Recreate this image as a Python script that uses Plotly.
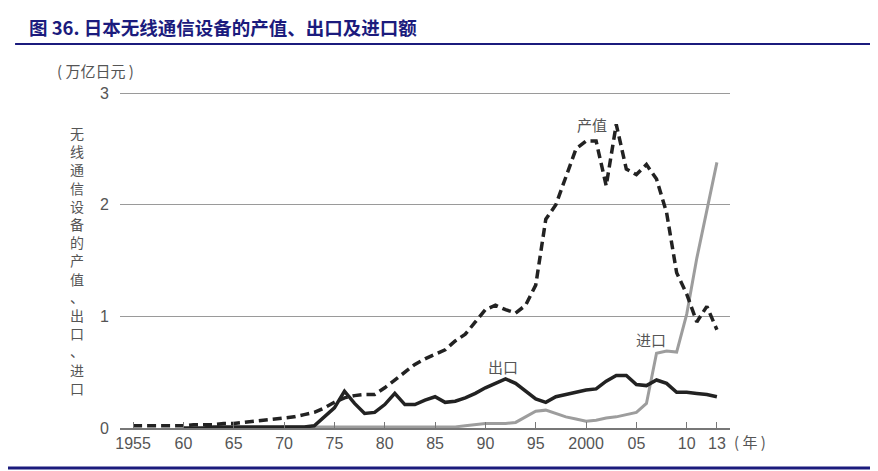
import plotly.graph_objects as go

# 年份 1955-2013
years = list(range(1955, 2014))

# 产值（万亿日元），读图估计
production = [0.02, 0.02, 0.02, 0.02, 0.02, 0.02, 0.03, 0.03, 0.03, 0.04,
              0.04, 0.05, 0.06, 0.07, 0.08, 0.09, 0.10, 0.12, 0.14, 0.18,
              0.23, 0.27, 0.29, 0.30, 0.30, 0.36, 0.43, 0.50, 0.57, 0.62,
              0.66, 0.70, 0.78, 0.84, 0.95, 1.06, 1.10, 1.06, 1.03, 1.10,
              1.28, 1.87, 2.00, 2.25, 2.50, 2.57, 2.57, 2.17, 2.72, 2.32,
              2.27, 2.36, 2.23, 1.93, 1.39, 1.20, 0.95, 1.09, 0.88]

# 出口（1960 年起）
export_years = list(range(1960, 2014))
exports = [0.00, 0.00, 0.00, 0.01, 0.01, 0.01, 0.01, 0.01, 0.01, 0.01,
           0.01, 0.01, 0.01, 0.02, 0.10, 0.18, 0.33, 0.22, 0.13, 0.14,
           0.21, 0.31, 0.21, 0.21, 0.25, 0.28, 0.23, 0.24, 0.27, 0.31,
           0.36, 0.40, 0.44, 0.40, 0.33, 0.26, 0.23, 0.28, 0.30, 0.32,
           0.34, 0.35, 0.42, 0.47, 0.47, 0.39, 0.38, 0.43, 0.40, 0.32,
           0.32, 0.31, 0.30, 0.28]

# 进口（1965 年起）
import_years = list(range(1965, 2014))
imports = [0.00, 0.00, 0.00, 0.00, 0.00, 0.01, 0.01, 0.01, 0.01, 0.01,
           0.01, 0.01, 0.01, 0.01, 0.01, 0.01, 0.01, 0.01, 0.01, 0.01,
           0.01, 0.01, 0.01, 0.02, 0.03, 0.04, 0.04, 0.04, 0.05, 0.10,
           0.15, 0.16, 0.13, 0.10, 0.08, 0.06, 0.07, 0.09, 0.10, 0.12,
           0.14, 0.22, 0.67, 0.69, 0.68, 1.02, 1.52, 1.95, 2.38]

tick_vals = [1955, 1960, 1965, 1970, 1975, 1980, 1985, 1990, 1995, 2000, 2005, 2010, 2013]
tick_text = ["1955", "60", "65", "70", "75", "80", "85", "90", "95", "2000", "05", "10", "13"]

cjk = "Noto Sans CJK SC"
grey_txt = "#555555"
navy = "#1b1b7d"

fig = go.Figure()
fig.add_trace(go.Scatter(x=import_years, y=imports, mode="lines",
                         line=dict(color="#9d9d9d", width=3)))
fig.add_trace(go.Scatter(x=export_years, y=exports, mode="lines",
                         line=dict(color="#222222", width=3.5)))
fig.add_trace(go.Scatter(x=years, y=production, mode="lines",
                         line=dict(color="#222222", width=3.5, dash="9px,5px")))

# 系列标签
fig.add_annotation(x=2000.6, y=2.72, text="产值", showarrow=False, yanchor="middle",
                   font=dict(family=cjk, size=15, color=grey_txt))
fig.add_annotation(x=1991.7, y=0.55, text="出口", showarrow=False, yanchor="middle",
                   font=dict(family=cjk, size=15, color=grey_txt))
fig.add_annotation(x=2006.5, y=0.79, text="进口", showarrow=False, yanchor="middle",
                   font=dict(family=cjk, size=15, color=grey_txt))

# 坐标轴说明
fig.add_annotation(xref="paper", yref="paper", x=-0.040, y=1.063, text="( 万亿日元 )",
                   showarrow=False, xanchor="center", yanchor="middle",
                   font=dict(family=cjk, size=15, color=grey_txt))
fig.add_annotation(xref="paper", yref="paper", x=-0.085, y=0.50,
                   text="<br>".join("无线通信设备的产值、出口、进口"),
                   showarrow=False, align="center", yanchor="middle",
                   font=dict(family=cjk, size=14, color=grey_txt))
fig.add_annotation(xref="paper", yref="paper", x=1.003, y=-0.039, text="( 年 )",
                   showarrow=False, xanchor="left", yanchor="middle",
                   font=dict(family=cjk, size=15, color=grey_txt))

# 标题与分隔线
fig.add_annotation(xref="paper", yref="paper", x=-0.152, y=1.194,
                   text="<b>图 36. 日本无线通信设备的产值、出口及进口额</b>",
                   showarrow=False, xanchor="left", yanchor="middle",
                   font=dict(family=cjk, size=18.5, color=navy))
fig.add_shape(type="line", xref="paper", yref="paper", x0=-0.172, x1=1.23, y0=1.143, y1=1.143,
              line=dict(color=navy, width=2))
fig.add_shape(type="line", xref="paper", yref="paper", x0=-0.2, x1=1.25, y0=-0.119, y1=-0.119,
              line=dict(color=navy, width=3))

# 页面默认有 8px 边距，图尺寸相应缩小
fig.update_layout(
    width=870, height=463,
    margin=dict(l=112, r=148, t=84, b=43),
    paper_bgcolor="white", plot_bgcolor="white",
    showlegend=False,
    font=dict(family="Liberation Sans, " + cjk, color=grey_txt, size=16),
)
fig.update_xaxes(range=[1953.7, 2014.3], tickvals=tick_vals, ticktext=tick_text,
                 showgrid=False, zeroline=False, showline=True, linecolor="#777777", linewidth=1.5,
                 ticks="inside", ticklen=6, tickcolor="#777777", tickfont=dict(size=16, color=grey_txt))
fig.update_yaxes(range=[0, 3.01], tickvals=[0, 1, 2, 3], showgrid=True, gridcolor="#9a9a9a", gridwidth=1,
                 zeroline=False, ticks="", tickfont=dict(size=16, color=grey_txt), ticklabelstandoff=10)

fig.write_html("out.html")
